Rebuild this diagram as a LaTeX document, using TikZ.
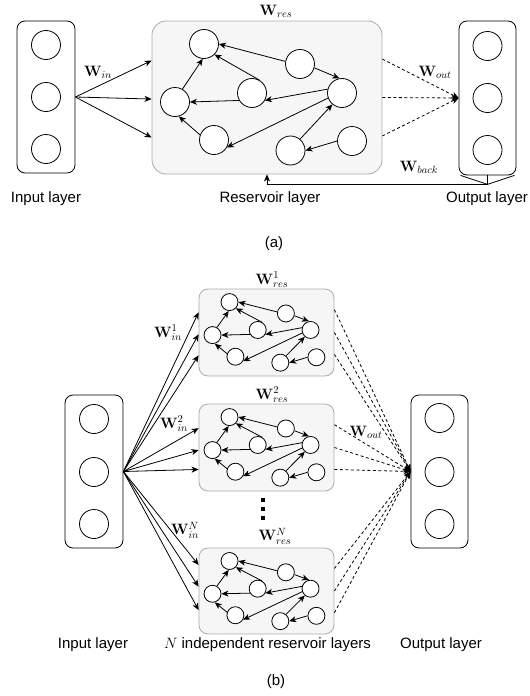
\RequirePackage{fix-cm}
\documentclass[tikz,border=0pt]{standalone}
\usepackage[no-math]{fontspec}
\setmainfont{Liberation Sans}
\usetikzlibrary{arrows.meta,calc}

\tikzset{
  neuron/.style={circle, draw, line width=0.8pt, minimum size=29pt, inner sep=0pt, fill=white},
  sneuron/.style={circle, draw, line width=0.8pt, minimum size=17pt, inner sep=0pt, fill=white},
  iobox/.style={draw, rounded corners=8pt, line width=0.8pt, minimum width=58pt, minimum height=153pt, inner sep=0pt},
  resbox/.style={draw=gray!65, fill=gray!7, line width=0.8pt, inner sep=0pt},
  conn/.style={-{Stealth[length=7pt,width=6pt,inset=2pt]}, line width=0.8pt},
  dconn/.style={conn, dash pattern=on 3pt off 2.5pt},
  lbl/.style={font=\fontsize{15}{18}\selectfont, inner sep=0pt},
}

\newcommand\ReservoirNet[6]{%
  \begin{scope}[shift={(#2,#3)},xscale=#4,yscale=#5]
    \node[#6] (#1A) at (52,23) {};
    \node[#6] (#1B) at (23,81) {};
    \node[#6] (#1C) at (100,72) {};
    \node[#6] (#1D) at (62,119) {};
    \node[#6] (#1E) at (148,43) {};
    \node[#6] (#1F) at (190,72) {};
    \node[#6] (#1G) at (138.5,129.5) {};
    \node[#6] (#1H) at (200,120) {};
  \end{scope}
  \draw[conn] (#1B.60) -- (#1A.-95);
  \draw[conn] (#1E.170) -- (#1A.east);
  \draw[conn] (#1C.60) -- (#1A.-45);
  \draw[conn] (#1C.-150) -- (#1B.east);
  \draw[conn] (#1D.160) -- (#1B.-75);
  \draw[conn] (#1E.-15) -- (#1F.100);
  \draw[conn] (#1F.165) -- (#1C.-30);
  \draw[conn] (#1F.200) -- (#1D.-30);
  \draw[conn] (#1G.50) -- (#1F.-130);
  \draw[conn] (#1H.west) -- (#1G.east);
}

\begin{document}
\begin{tikzpicture}[x=1pt,y=-1pt]
\useasboundingbox (0,0) rectangle (530,696);

% ---------------- (a) ----------------
\node[iobox, minimum height=152pt] (Ia) at (46,97) {};
\node[neuron] (Ia1) at (46,45) {};
\node[neuron] (Ia2) at (46,97) {};
\node[neuron] (Ia3) at (46,149) {};

\node[resbox, rounded corners=14pt, minimum width=230pt, minimum height=153pt] (Ra) at (267,97.5) {};
\ReservoirNet{a}{152}{21}{1}{1}{neuron}

\node[iobox, minimum width=57pt, minimum height=154pt] (Oa) at (487.5,98) {};
\node[neuron] (Oa1) at (487.5,46) {};
\node[neuron] (Oa2) at (487.5,98) {};
\node[neuron] (Oa3) at (487.5,150) {};

\foreach \f in {0.26,0.51,0.76}
  \draw[conn] (Ia.east) -- ($(Ra.north west)!\f!(Ra.south west)$);
\foreach \f in {0.25,0.5,0.75}
  \draw[dconn] ($(Ra.north east)!\f!(Ra.south east)$) -- (Oa.west);

\coordinate (fb) at ([yshift=-9pt]Oa.south);
\draw[line width=0.8pt] ([xshift=2pt]Oa.south west) -- (fb) -- ([xshift=-2pt]Oa.south east);
\draw[line width=0.8pt] (Oa.south) -- (fb);
\draw[conn] (fb) -| (Ra.south);

\node[lbl] (Wres) at (276,11) {$\mathbf{W}_{res}$};
\node[lbl] (Win) at (98,72) {$\mathbf{W}_{in}$};
\node[lbl] (Wout) at (435,72) {$\mathbf{W}_{out}$};
\node[lbl] (Wback) at (419,167) {$\mathbf{W}_{back}$};

\node[lbl, anchor=base] (tIa) at (46,202) {Input layer};
\node[lbl, anchor=base] (tRa) at (270,202) {Reservoir layer};
\node[lbl, anchor=base] (tOa) at (487,202) {Output layer};
\node[lbl, anchor=base] (capa) at (274,247) {(a)};

% ---------------- (b) ----------------
\node[iobox, minimum height=153pt] (Ib) at (94,471.5) {};
\node[neuron] (Ib1) at (94,419) {};
\node[neuron] (Ib2) at (94,472) {};
\node[neuron] (Ib3) at (94,524) {};

\node[iobox, minimum width=57pt, minimum height=153pt] (Ob) at (439.5,471.5) {};
\node[neuron] (Ob1) at (439.5,418) {};
\node[neuron] (Ob2) at (439.5,472) {};
\node[neuron] (Ob3) at (439.5,524) {};

\node[resbox, rounded corners=9pt, minimum width=135pt, minimum height=87pt] (R1) at (266.5,332.5) {};
\node[resbox, rounded corners=9pt, minimum width=135pt, minimum height=87pt] (R2) at (266.5,447.5) {};
\node[resbox, rounded corners=9pt, minimum width=135pt, minimum height=86pt] (RN) at (266.5,591) {};

\ReservoirNet{1}{199}{289}{0.587}{0.569}{sneuron}
\ReservoirNet{2}{199}{404}{0.587}{0.569}{sneuron}
\ReservoirNet{N}{199}{548}{0.587}{0.565}{sneuron}

\foreach \f in {0.27,0.52,0.76}
  \draw[conn] (Ib.east) -- ($(R1.north west)!\f!(R1.south west)$);
\foreach \f in {0.28,0.53,0.75}
  \draw[conn] (Ib.east) -- ($(R2.north west)!\f!(R2.south west)$);
\foreach \f in {0.2,0.45,0.72}
  \draw[conn] (Ib.east) -- ($(RN.north west)!\f!(RN.south west)$);

\foreach \r in {R1,R2,RN}
  \foreach \f in {0.24,0.5,0.75}
    \draw[dconn] ($(\r.north east)!\f!(\r.south east)$) -- (Ob.west);

\fill (261.3,498) rectangle +(4,4);
\fill (261.3,507) rectangle +(4,4);
\fill (261.3,516) rectangle +(4,4);

\node[lbl] (Wres1) at (272,280) {$\mathbf{W}^{1}_{res}$};
\node[lbl] (Wres2) at (272,395) {$\mathbf{W}^{2}_{res}$};
\node[lbl] (WresN) at (275,536) {$\mathbf{W}^{N}_{res}$};
\node[lbl] (Win1) at (168,333) {$\mathbf{W}^{1}_{in}$};
\node[lbl] (Win2) at (174,424) {$\mathbf{W}^{2}_{in}$};
\node[lbl] (WinN) at (185,530) {$\mathbf{W}^{N}_{in}$};
\node[lbl] (Woutb) at (366,432) {$\mathbf{W}_{out}$};

\node[lbl, anchor=base] (tIb) at (93,648.5) {Input layer};
\node[lbl, anchor=base] (tRb) at (267.5,648.5) {$N$ independent reservoir layers};
\node[lbl, anchor=base] (tOb) at (441,648.5) {Output layer};
\node[lbl, anchor=base] (capb) at (276,685.5) {(b)};
\end{tikzpicture}
\end{document}
